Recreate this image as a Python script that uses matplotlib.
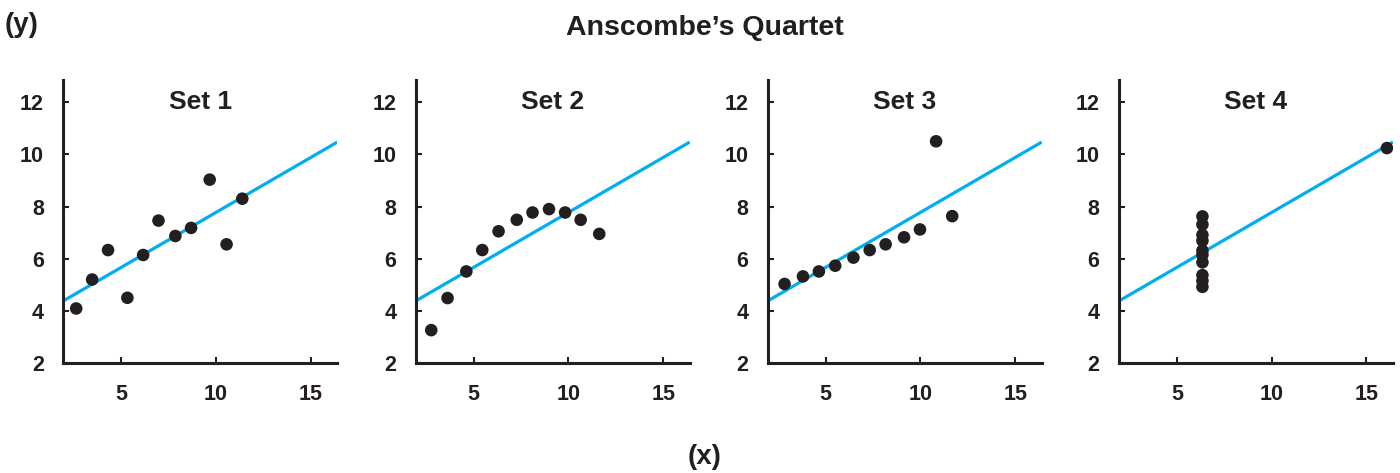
import matplotlib
matplotlib.use("Agg")
import matplotlib.pyplot as plt
import numpy as np

# ---------------------------------------------------------------------------
# Daten
# ---------------------------------------------------------------------------
SET_NAMES = ["Set 1", "Set 2", "Set 3", "Set 4"]

x1 = [2.63, 3.47, 4.31, 5.33, 6.16, 6.97, 7.86, 8.69, 9.67, 10.56, 11.39]
y1 = [4.09, 5.20, 6.33, 4.50, 6.14, 7.46, 6.87, 7.18, 9.03, 6.55, 8.30]

x2 = [2.77, 3.63, 4.62, 5.46, 6.32, 7.28, 8.11, 8.98, 9.83, 10.65, 11.63]
y2 = [3.26, 4.49, 5.51, 6.33, 7.05, 7.49, 7.77, 7.90, 7.77, 7.49, 6.95]

x3 = [2.84, 3.81, 4.65, 5.51, 6.47, 7.33, 8.17, 9.14, 9.98, 10.83, 11.68]
y3 = [5.03, 5.32, 5.51, 5.73, 6.04, 6.33, 6.55, 6.82, 7.12, 10.50, 7.63]

x4 = [6.35, 6.35, 6.35, 6.35, 6.35, 6.35, 6.35, 6.35, 6.35, 6.35, 16.08]
y4 = [7.62, 7.31, 6.91, 6.69, 6.31, 6.15, 5.86, 5.37, 5.15, 4.92, 10.24]

FIT_INTERCEPT = 3.557
FIT_SLOPE = 0.4215

X_TICKS = [5, 10, 15]
Y_TICKS = [2, 4, 6, 8, 10, 12]

# ---------------------------------------------------------------------------
# Stil
# ---------------------------------------------------------------------------
FONT = ["Liberation Sans Narrow", "Liberation Sans", "DejaVu Sans"]
plt.rcParams["font.family"] = FONT
plt.rcParams["font.weight"] = "bold"

DOT_COLOR = "#231f20"
LINE_COLOR = "#00aeef"
TEXT_COLOR = "#231f20"

fig = plt.figure(figsize=(14, 4.73), dpi=100)

W, H = 1400, 473
lefts = [63.3, 415.7, 767.7, 1119.0]
ax_w = 274.0
ax_top, ax_bot = 80.0, 363.0

datasets = [(x1, y1), (x2, y2), (x3, y3), (x4, y4)]
xlim = (1.95, 16.4)
ylim = (2, 12.85)

for left, name, (xs, ys) in zip(lefts, SET_NAMES, datasets):
    ax = fig.add_axes([left / W, (H - ax_bot) / H, ax_w / W, (ax_bot - ax_top) / H])
    xx = np.array(xlim)
    ax.plot(xx, FIT_INTERCEPT + FIT_SLOPE * xx, color=LINE_COLOR, lw=2.3,
            solid_capstyle="butt", zorder=2)
    ax.scatter(xs, ys, s=82, color=DOT_COLOR, edgecolors="none", zorder=3)

    ax.set_xlim(*xlim)
    ax.set_ylim(*ylim)
    ax.set_xticks(X_TICKS)
    ax.set_yticks(Y_TICKS)
    ax.tick_params(direction="in", length=4, width=1.5, colors=TEXT_COLOR,
                   labelsize=15.5)
    ax.tick_params(axis="y", pad=14)
    ax.tick_params(axis="x", pad=15)
    for lbl in ax.get_xticklabels() + ax.get_yticklabels():
        lbl.set_fontweight("bold")
    for side in ("top", "right"):
        ax.spines[side].set_visible(False)
    for side in ("left", "bottom"):
        ax.spines[side].set_linewidth(2.2)
        ax.spines[side].set_color(TEXT_COLOR)
    ax.patch.set_visible(False)

    ax.text(0.5, 0.922, name, transform=ax.transAxes, ha="center", va="center",
            fontsize=19, fontweight="bold", color=TEXT_COLOR)

fig.text(705 / W, 1 - 28 / H, "Anscombe\u2019s Quartet", ha="center", va="center",
         fontsize=20.5, fontweight="bold", color=TEXT_COLOR)
fig.text(22 / W, 1 - 25 / H, "(y)", ha="center", va="center",
         fontsize=20, fontweight="bold", color=TEXT_COLOR)
fig.text(705 / W, 1 - 457 / H, "(x)", ha="center", va="center",
         fontsize=20, fontweight="bold", color=TEXT_COLOR)

fig.savefig("out.png", dpi=100)
